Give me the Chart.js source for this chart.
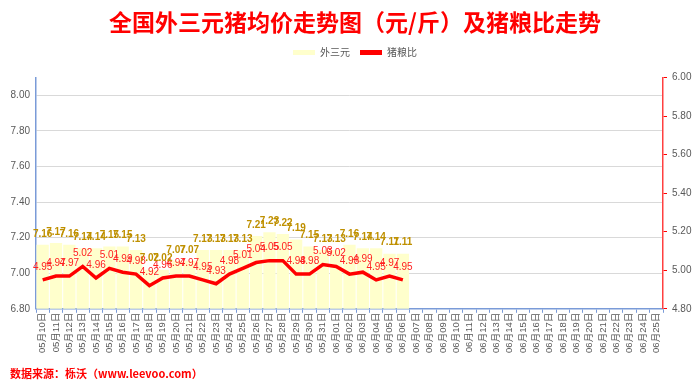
<!DOCTYPE html>
<html>
<head>
<meta charset="utf-8">
<script src="https://cdn.jsdelivr.net/npm/chart.js@4/dist/chart.umd.min.js"></script>
<style>
  body { margin: 0; background: #fff; }
  #wrap { width: 700px; height: 390px; }
</style>
</head>
<body>
<div id="wrap"><canvas id="myChart" width="700" height="390"></canvas></div>
<script>
const ctx = document.getElementById('myChart');

// x categories
const dates = [
  '05月10日','05月11日','05月12日','05月13日','05月14日','05月15日','05月16日','05月17日',
  '05月18日','05月19日','05月20日','05月21日','05月22日','05月23日','05月24日','05月25日',
  '05月26日','05月27日','05月28日','05月29日','05月30日','05月31日',
  '06月01日','06月02日','06月03日','06月04日','06月05日','06月06日','06月07日','06月08日',
  '06月09日','06月10日','06月11日','06月12日','06月13日','06月14日','06月15日','06月16日',
  '06月17日','06月18日','06月19日','06月20日','06月21日','06月22日','06月23日','06月24日',
  '06月25日'
];

// 外三元 price (元/斤)
const pigPrice = [
  7.16, 7.17, 7.16, 7.14, 7.14, 7.15, 7.15, 7.13, 7.02, 7.02,
  7.07, 7.07, 7.13, 7.13, 7.13, 7.13, 7.21, 7.23, 7.22, 7.19,
  7.15, 7.13, 7.13, 7.16, 7.14, 7.14, 7.11, 7.11
];

// 猪粮比
const grainRatio = [
  4.95, 4.97, 4.97, 5.02, 4.96, 5.01, 4.99, 4.98, 4.92, 4.96,
  4.97, 4.97, 4.95, 4.93, 4.98, 5.01, 5.04, 5.05, 5.05, 4.98,
  4.98, 5.03, 5.02, 4.98, 4.99, 4.95, 4.97, 4.95
];

const seriesNames = ['外三元', '猪粮比'];
const titleText = '全国外三元猪均价走势图（元/斤）及猪粮比走势';
const sourceText = '数据来源：栎沃（www.leevoo.com）';

const FONT = "'Liberation Sans', 'Noto Sans CJK SC', sans-serif";
const GRAY = '#595959';
const AXIS_BLUE = '#7A9BD8';

// value labels above bars and line points
const valueLabels = {
  id: 'valueLabels',
  afterInit(chart) {
    // leave extra room under the legend, like the original
    const lg = chart.legend;
    if (lg && !lg._patched) {
      const fit = lg.fit.bind(lg);
      lg.fit = function () { fit(); this.height += 10; };
      lg._patched = true;
    }
  },
  afterDatasetsDraw(chart) {
    const c = chart.ctx;
    c.save();
    c.textAlign = 'center';
    c.textBaseline = 'middle';
    chart.data.datasets.forEach((ds, i) => {
      const meta = chart.getDatasetMeta(i);
      meta.data.forEach((el, j) => {
        const v = ds.data[j];
        if (v == null) return;
        if (ds.type === 'bar') {
          c.font = 'bold 10px ' + FONT;
          c.fillStyle = '#BF9000';
          c.fillText(v.toFixed(2), el.x, el.y - 11);
        } else {
          c.font = '10px ' + FONT;
          c.fillStyle = '#FF2020';
          c.fillText(v.toFixed(2), el.x, el.y - 13);
        }
      });
    });
    c.restore();
  }
};

const data = {
  labels: dates,
  datasets: [
    {
      type: 'line',
      label: seriesNames[1],
      data: grainRatio,
      yAxisID: 'y1',
      borderColor: '#FF0000',
      backgroundColor: '#FF0000',
      borderWidth: 3.5,
      pointRadius: 0,
      tension: 0,
      order: 1
    },
    {
      type: 'bar',
      label: seriesNames[0],
      data: pigPrice,
      yAxisID: 'y',
      backgroundColor: '#FFFFCC',
      barPercentage: 0.92,
      categoryPercentage: 1.0,
      order: 2
    }
  ]
};

const config = {
  data: data,
  plugins: [valueLabels],
  options: {
    responsive: false,
    devicePixelRatio: 1,
    animation: false,
    layout: { padding: { left: 10, right: 0, top: 0, bottom: 2 } },
    plugins: {
      tooltip: { enabled: false },
      title: {
        display: true,
        text: titleText,
        color: '#FF0000',
        font: { family: "'Noto Sans CJK SC', sans-serif", size: 23, weight: 'bold' },
        padding: { top: 8, bottom: 2 }
      },
      subtitle: {
        display: true,
        text: sourceText,
        position: 'bottom',
        align: 'start',
        color: '#FF0000',
        font: { family: "'Noto Sans CJK SC', sans-serif", size: 11, weight: 'bold' },
        padding: { top: 8, bottom: 8 }
      },
      legend: {
        display: true,
        position: 'top',
        labels: {
          boxWidth: 22,
          boxHeight: 5,
          padding: 10,
          color: GRAY,
          font: { family: "'Noto Sans CJK SC', sans-serif", size: 10 },
          generateLabels() {
            return [
              { text: seriesNames[0], fillStyle: '#FFFFCC', strokeStyle: '#FFFFCC', lineWidth: 0, datasetIndex: 1, fontColor: GRAY },
              { text: seriesNames[1], fillStyle: '#FF0000', strokeStyle: '#FF0000', lineWidth: 0, datasetIndex: 0, fontColor: GRAY }
            ];
          }
        }
      }
    },
    scales: {
      x: {
        type: 'category',
        offset: true,
        afterFit(scale) { scale.height = 50; },
        grid: { offset: true, drawOnChartArea: false, drawTicks: true, tickLength: 4, color: AXIS_BLUE },
        border: { color: AXIS_BLUE, width: 1.5 },
        ticks: {
          autoSkip: false, minRotation: 90, maxRotation: 90, padding: 0,
          color: GRAY, font: { family: FONT, size: 9.5 }
        }
      },
      y: {
        position: 'left',
        min: 6.8,
        max: 8.1,
        afterFit(scale) { scale.width = 26; },
        afterBuildTicks(scale) { scale.ticks = scale.ticks.filter(t => t.value <= 8.0001); },
        grid: { color: '#D9D9D9', drawTicks: false },
        border: { color: AXIS_BLUE, width: 1.5 },
        ticks: {
          stepSize: 0.2, padding: 6, color: GRAY, font: { family: FONT, size: 10 },
          callback: v => Number(v).toFixed(2)
        }
      },
      y1: {
        position: 'right',
        min: 4.8,
        max: 6.0,
        afterFit(scale) { scale.width = 37; },
        grid: { drawOnChartArea: false, drawTicks: true, tickLength: 4, color: '#FF0000' },
        border: { color: '#FF4040', width: 1.5 },
        ticks: {
          stepSize: 0.2, padding: 5, color: GRAY, font: { family: FONT, size: 10 },
          callback: v => Number(v).toFixed(2)
        }
      }
    }
  }
};

const mixedChart = new Chart(ctx, config);
</script>
</body>
</html>
